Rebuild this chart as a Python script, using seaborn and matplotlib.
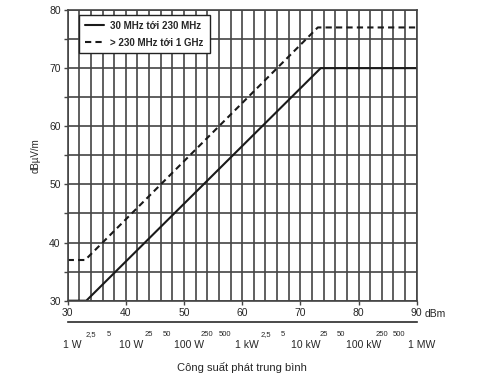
import matplotlib
matplotlib.use('Agg')
import pandas as pd
import matplotlib.pyplot as plt
import matplotlib.transforms as mtransforms
from matplotlib.lines import Line2D
import seaborn as sns

# duong gioi han - 30 MHz toi 230 MHz
dbm_low = [30, 33.2, 73.5, 90]
field_low = [30, 30, 70, 70]
# duong gioi han - 230 MHz toi 1 GHz
dbm_high = [30, 33, 73, 90]
field_high = [37, 37, 77, 77]
series_names = ['30 MHz tới 230 MHz', '> 230 MHz tới 1 GHz']

# truc cong suat ben duoi
power_major = [30, 40, 50, 60, 70, 80, 90]
power_major_labels = ['1 W', '10 W', '100 W', '1 kW', '10 kW', '100 kW', '1 MW']
power_minor = [34, 37, 44, 47, 54, 57, 64, 67, 74, 77, 84, 87]
power_minor_labels = ['2,5', '5', '25', '50', '250', '500',
                      '2,5', '5', '25', '50', '250', '500']

df = pd.concat([
    pd.DataFrame({'dBm': dbm_low, 'dBuV/m': field_low, 'band': series_names[0]}),
    pd.DataFrame({'dBm': dbm_high, 'dBuV/m': field_high, 'band': series_names[1]}),
])

sns.set_style('white')
plt.rcParams['font.family'] = ['Liberation Sans', 'DejaVu Sans']

fig = plt.figure(figsize=(4.78, 3.78), dpi=100)
ax = fig.add_axes([0.1416, 0.2045, 0.7301, 0.769])

grid_col = '#444444'
line_col = '#1a1a1a'

sns.lineplot(data=df, x='dBm', y='dBuV/m', hue='band', style='band',
             palette=[line_col, line_col], dashes=[(None, None), (3, 2)],
             linewidth=1.5, sort=False, ax=ax, legend=False)

ax.set_xlim(30, 90)
ax.set_ylim(30, 80)
ax.set_xticks(range(30, 91, 10))
ax.set_xticks(range(30, 91, 2), minor=True)
ax.set_yticks(range(30, 81, 10))
ax.set_yticks(range(30, 81, 5), minor=True)
ax.grid(True, which='both', color=grid_col, linewidth=1.2)
ax.set_axisbelow(True)
for s in ax.spines.values():
    s.set_color(grid_col)
    s.set_linewidth(1.2)
ax.tick_params(axis='both', which='major', labelsize=7.5, length=3, width=1,
               color=grid_col, pad=2, direction='out', bottom=True, left=True)
ax.tick_params(axis='y', which='minor', length=3, width=1, color=grid_col, left=True)
ax.tick_params(axis='x', which='minor', length=0)
ax.set_xlabel('')
ax.set_ylabel('dBµV/m', fontsize=7, labelpad=6)
ax.text(1.022, -0.045, 'dBm', transform=ax.transAxes, fontsize=7.5,
        ha='left', va='center')

# chu giai
handles = [Line2D([], [], color=line_col, lw=1.5),
           Line2D([], [], color=line_col, lw=1.5, linestyle=(0, (3, 2)))]
leg = ax.legend(handles, series_names, loc='upper left',
                bbox_to_anchor=(0.033, 0.983), borderaxespad=0, fancybox=False,
                framealpha=1, edgecolor='#222222', handlelength=2.0,
                handletextpad=0.6, borderpad=0.6, labelspacing=0.7,
                prop={'size': 7, 'weight': 'bold'})
leg.get_frame().set_linewidth(1.0)

# truc phu: cong suat phat
ax2 = fig.add_axes([0.1416, 0.148, 0.7301, 0.0001])
ax2.set_facecolor('none')
for k in ['left', 'right', 'top']:
    ax2.spines[k].set_visible(False)
ax2.spines['bottom'].set_color('#2a2a2a')
ax2.spines['bottom'].set_linewidth(1.2)
ax2.set_xlim(30, 90)
ax2.set_yticks([])
ax2.set_xticks(power_major)
ax2.set_xticklabels([''] * len(power_major))
ax2.set_xticks(power_minor, minor=True)
ax2.set_xticklabels(power_minor_labels, minor=True, fontsize=5.5)
ax2.tick_params(axis='x', which='major', direction='inout', length=8, width=1.2,
                color='#2a2a2a')
ax2.tick_params(axis='x', which='minor', direction='inout', length=5, width=1,
                color='#2a2a2a', pad=4)
off = mtransforms.ScaledTranslation(5 / 100, -23 / 100, fig.dpi_scale_trans)
trans = mtransforms.blended_transform_factory(ax2.transData, ax2.transAxes) + off
for x, lab in zip(power_major, power_major_labels):
    ax2.text(x, 0, lab, transform=trans, fontsize=7.5, ha='center', va='center')

fig.text(0.506, 0.028, 'Công suất phát trung bình', fontsize=8, ha='center', va='center')

fig.savefig('out.png', dpi=100)
